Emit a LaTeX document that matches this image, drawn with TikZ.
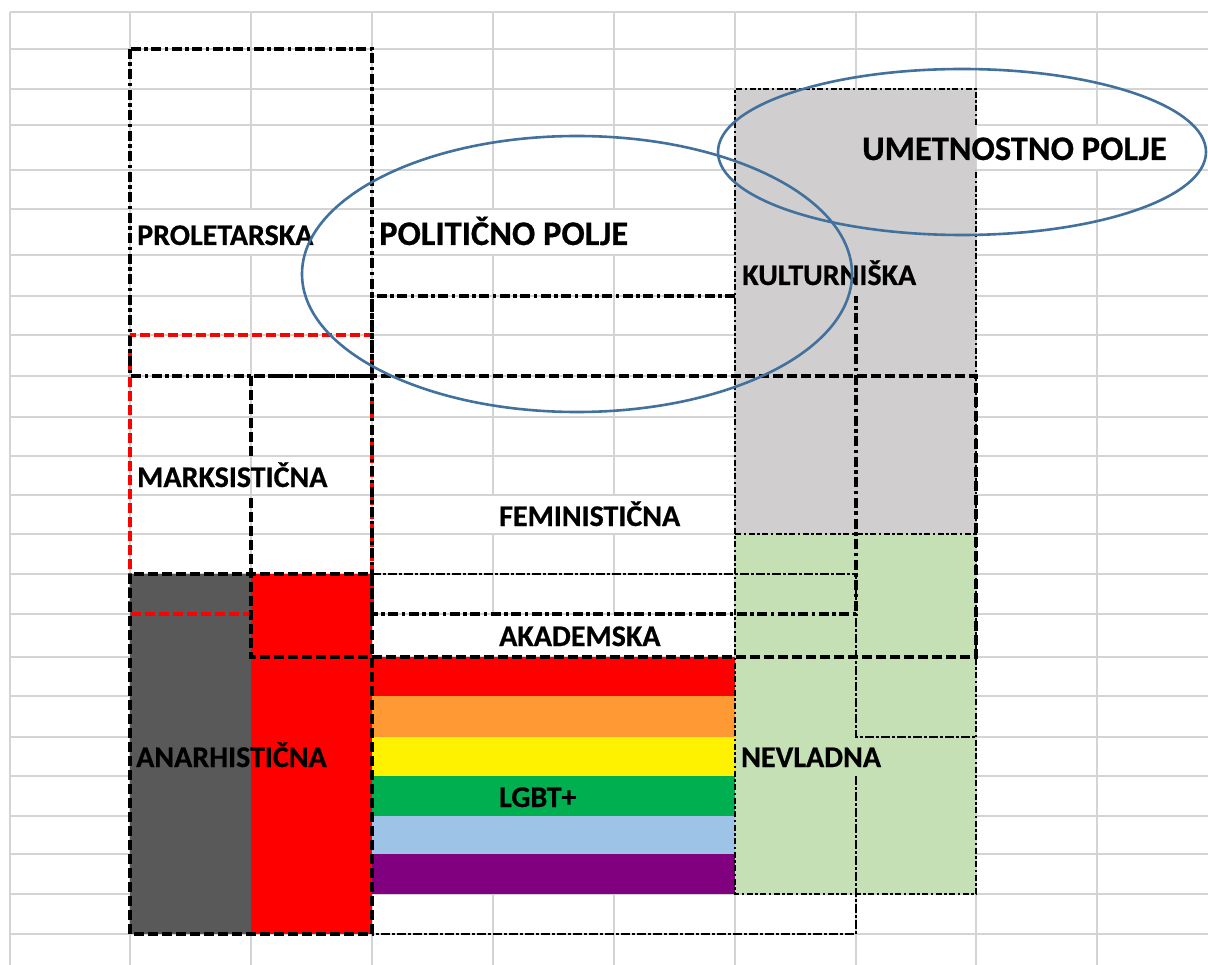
\documentclass[tikz,border=0pt]{standalone}
\usepackage{fontspec}
\setmainfont{Carlito}[BoldFeatures={FakeBold=0.6}]
\definecolor{gridc}{HTML}{D4D4D4}
\definecolor{dgray}{HTML}{595959}
\definecolor{lgray}{HTML}{D0CECE}
\definecolor{lgreen}{HTML}{C5E0B4}
\definecolor{rorange}{HTML}{FF9933}
\definecolor{rgreen}{HTML}{00B050}
\definecolor{rblue}{HTML}{9DC3E6}
\definecolor{rpurple}{HTML}{800080}
\definecolor{ellc}{HTML}{41719C}
\tikzset{
  gridln/.style={draw=gridc, line width=1.6pt},
  ddot/.style={line width=3.8pt, dash pattern=on 10pt off 3.5pt on 3.5pt off 3.5pt},
  thickdash/.style={line width=3.8pt, dash pattern=on 10pt off 4pt},
  reddash/.style={line width=3.2pt, dash pattern=on 10pt off 4pt, draw=red},
  thinddot/.style={line width=2.2pt, dash pattern=on 6pt off 2.5pt on 2.5pt off 2.5pt},
  slantdash/.style={line width=2.8pt, dash pattern=on 9pt off 2pt on 3pt off 2pt},
  fieldell/.style={draw=ellc, line width=2.6pt},
  lbl/.style={font=\bfseries\fontsize{30}{30}\selectfont, anchor=base west, inner sep=0pt},
  biglbl/.style={font=\bfseries\fontsize{34.5}{34.5}\selectfont, anchor=base west, inner sep=0pt}
}
\begin{document}
\begin{tikzpicture}[x=1pt,y=-1pt]
\useasboundingbox (0,0) rectangle (1208,965);
\fill[white] (0,0) rectangle (1208,965);
% grid
\foreach \yy in {12,49,89,125,170,209,255,296,335,376,417,456,495,534,574,614,657,696,737,776,816,854,894,934}
  \draw[gridln] (10,\yy) -- (1208,\yy);
\foreach \xx in {10,130,251,372,493,614,735,856,976,1097}
  \draw[gridln] (\xx,12) -- (\xx,965);
% gridlines hidden by overflowing text
\foreach \xx/\ya/\yb in {251/209/255, 493/209/255, 614/209/255, 1097/125/170, 493/495/534, 614/495/534, 493/614/657, 614/614/657}
  \fill[white] (\xx-1.5,\ya+0.9) rectangle (\xx+1.5,\yb-0.9);
% fills
\fill[lgray] (735,89) rectangle (976,534);
\fill[lgreen] (735,534) rectangle (976,894);
\fill[dgray] (130,574) rectangle (251,934);
\fill[red] (251,574) rectangle (372,934);
\fill[red] (372,657) rectangle (735,696);
\fill[rorange] (372,696) rectangle (735,737);
\fill[yellow] (372,737) rectangle (735,776);
\fill[rgreen] (372,776) rectangle (735,816);
\fill[rblue] (372,816) rectangle (735,854);
\fill[rpurple] (372,854) rectangle (735,894);
% red dashed (marksisticna)
\draw[reddash] (130,335) rectangle (372,614);
% thin dash-dot border of gray/green block
\draw[thinddot] (976,125) -- (976,89) -- (735,89) -- (735,894) -- (976,894) -- (976,170);
\draw[thinddot] (735,534) -- (976,534);
% slanted dashed shape
\draw[slantdash] (372,574) -- (856,574) -- (856,737) -- (976,737);
\draw[slantdash] (856,776) -- (856,934) -- (372,934);
% dash-dot rectangles
\draw[ddot] (130,49) rectangle (372,376);
\draw[ddot] (735,296) -- (372,296) -- (372,614) -- (856,614) -- (856,296);
% dashed rectangles
\draw[thickdash] (251,456) -- (251,376) -- (976,376) -- (976,657) -- (251,657) -- (251,495);
\draw[thickdash] (130,574) rectangle (372,934);
% labels
\node[lbl] (prol) at (137,245) {PROLETARSKA};
\node[biglbl] (polit) at (379,245) {POLITIČNO POLJE};
\node[biglbl] (umet) at (862,160) {UMETNOSTNO POLJE};
\node[lbl] (kult) at (742,285) {KULTURNIŠKA};
\node[lbl] (mark) at (137,487) {MARKSISTIČNA};
\node[lbl] (femi) at (499,526) {FEMINISTIČNA};
\node[lbl] (akad) at (499,646) {AKADEMSKA};
\node[lbl] (anar) at (136,767) {ANARHISTIČNA};
\node[lbl] (lgbt) at (499,807) {LGBT+};
\node[lbl] (nevl) at (741,767) {NEVLADNA};
% field ellipses
\draw[fieldell] (577,274) ellipse [x radius=275, y radius=138];
\draw[fieldell] (962,152) ellipse [x radius=244, y radius=83];
\end{tikzpicture}
\end{document}
